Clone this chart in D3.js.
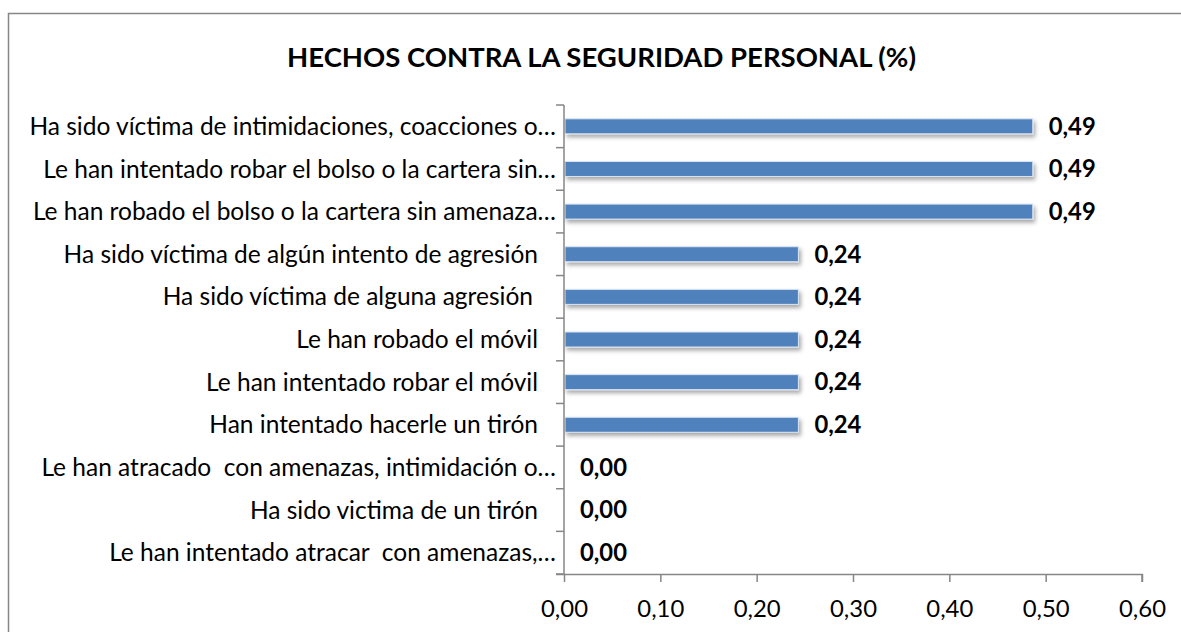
<!DOCTYPE html>
<html><head><meta charset="utf-8">
<script src="https://cdn.jsdelivr.net/npm/d3@7"></script>
<style>
html,body{margin:0;padding:0;background:#fff;}
svg{display:block;}
text{font-family:Lato,"Open Sans",sans-serif;}
</style></head>
<body>
<svg id="chart" width="1181" height="632"></svg>
<script>
const title = "HECHOS CONTRA LA SEGURIDAD PERSONAL (%)";
const categories = [
  "Ha sido víctima de intimidaciones, coacciones o…",
  "Le han intentado robar el bolso o la cartera sin…",
  "Le han robado el bolso o la cartera sin amenaza…",
  "Ha sido víctima de algún intento de agresión ",
  "Ha sido víctima de alguna agresión  ",
  "Le han robado el móvil ",
  "Le han intentado robar el móvil ",
  "Han intentado hacerle un tirón ",
  "Le han atracado  con amenazas, intimidación o…",
  "Ha sido victima de un tirón ",
  "Le han intentado atracar  con amenazas,…"
];
const values = [0.4866, 0.4866, 0.4866, 0.2433, 0.2433, 0.2433, 0.2433, 0.2433, 0, 0, 0];
const xTicks = [0, 0.1, 0.2, 0.3, 0.4, 0.5, 0.6];

const fmt = v => v.toFixed(2).replace(".", ",");
const svg = d3.select("#chart");
const axisColor = "#868686";

// chart frame
svg.append("path").attr("d", "M8.5,632 L8.5,13.5 L1181,13.5")
  .attr("fill", "none").attr("stroke", axisColor).attr("stroke-width", 1.5);

const defs = svg.append("defs");
const f = defs.append("filter").attr("id", "sh").attr("x", "-5%").attr("y", "-50%").attr("width", "110%").attr("height", "250%");
f.append("feDropShadow").attr("dx", 2).attr("dy", 3).attr("stdDeviation", 2).attr("flood-color", "#000").attr("flood-opacity", 0.35);

const x = d3.scaleLinear().domain([0, 0.6]).range([564, 1142]);
const y = d3.scaleBand().domain(categories).range([105, 574]).paddingInner(0).paddingOuter(0);

function fitSize(str, weight, targetW, base) {
  const t = svg.append("text").attr("font-size", base).attr("font-weight", weight)
    .style("white-space", "pre").text(str);
  const w = t.node().getComputedTextLength();
  t.remove();
  return base * targetW / w;
}
const labelSize = fitSize(categories[0], "normal", 527, 20);
const titleSize = fitSize(title, "bold", 629, 26);
const valSize = fitSize("0,49", "bold", 47, 20);
const tickSize = fitSize("0,00", "normal", 47, 20);

// title
svg.append("text").attr("x", 601.5).attr("y", 67).attr("text-anchor", "middle")
  .attr("font-weight", "bold").attr("font-size", titleSize).attr("fill", "#000").text(title);

// bars
const barH = 15;
svg.append("g").selectAll("rect").data(values).join("rect")
  .attr("x", x(0) + 1)
  .attr("y", (d, i) => y(categories[i]) + y.bandwidth() / 2 - barH / 2)
  .attr("width", d => Math.max(0, x(d) - x(0) - 1))
  .attr("height", barH)
  .attr("fill", "#4F81BD")
  .attr("stroke", "#dbe5f1").attr("stroke-width", 1)
  .attr("filter", "url(#sh)")
  .style("display", d => d > 0 ? null : "none");

// y axis
const yAxisG = svg.append("g");
yAxisG.append("line").attr("x1", x(0)).attr("x2", x(0)).attr("y1", y.range()[0]).attr("y2", y.range()[1])
  .attr("stroke", axisColor).attr("stroke-width", 1.5);
const bounds = categories.map(c => y(c)).concat([y.range()[1]]);
yAxisG.selectAll("line.t").data(bounds).join("line").attr("class", "t")
  .attr("x1", x(0) - 8).attr("x2", x(0)).attr("y1", d => d).attr("y2", d => d)
  .attr("stroke", axisColor).attr("stroke-width", 1.5);
function labelEnd(s) {
  if (s.endsWith("…")) return 556;
  const sp = s.length - s.trimEnd().length;
  return 543 - 5 * sp;
}
yAxisG.selectAll("text").data(categories).join("text")
  .attr("x", d => labelEnd(d)).attr("y", d => y(d) + y.bandwidth() / 2)
  .attr("dy", "0.35em").attr("text-anchor", "end")
  .style("white-space", "pre")
  .attr("font-size", labelSize).attr("fill", "#000").text(d => d.trimEnd());

// x axis
const xAxis = d3.axisBottom(x).tickValues(xTicks).tickSize(8).tickPadding(14).tickFormat(fmt);
const xg = svg.append("g").attr("transform", `translate(0,${y.range()[1]})`).call(xAxis);
xg.select(".domain").attr("d", `M${x(0) - 8},0.5H${x(0.6)}V8`).attr("stroke", axisColor).attr("stroke-width", 1.5);
xg.selectAll(".tick line").attr("stroke", axisColor).attr("stroke-width", 1.5);
xg.selectAll(".tick text").attr("font-size", tickSize).attr("fill", "#000")
  .attr("y", 43).attr("dy", null)
  .attr("font-family", "Lato,'Open Sans',sans-serif");

// data labels
svg.append("g").selectAll("text").data(values).join("text")
  .attr("x", d => x(d) + 16)
  .attr("y", (d, i) => y(categories[i]) + y.bandwidth() / 2)
  .attr("dy", "0.35em").attr("font-weight", "bold").attr("font-size", valSize)
  .attr("fill", "#000").text(d => fmt(d));
</script>
</body></html>
